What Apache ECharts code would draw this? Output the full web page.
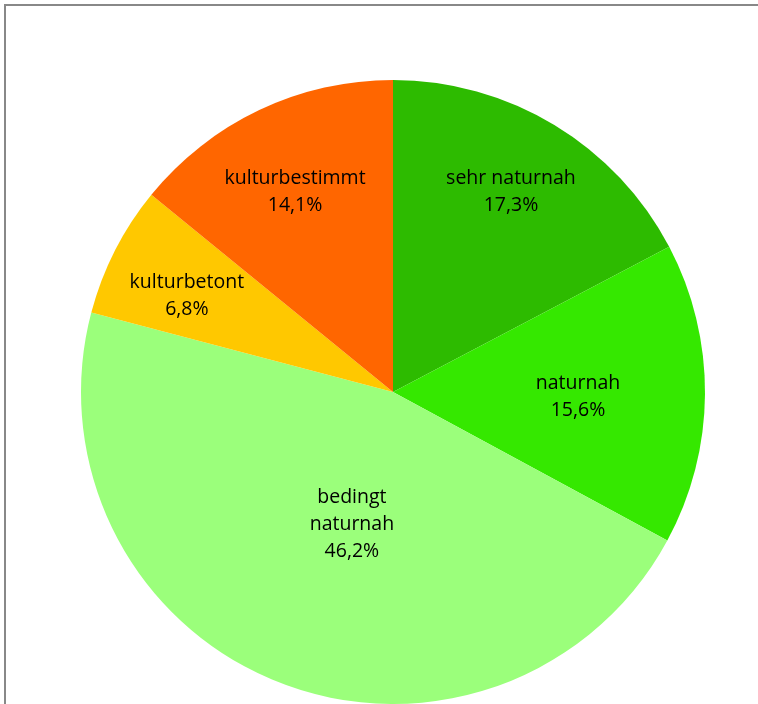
<!DOCTYPE html>
<html>
<head>
<meta charset="utf-8">
<script src="https://cdn.jsdelivr.net/npm/echarts@6/dist/echarts.min.js"></script>
<style>
html,body{margin:0;padding:0;background:#fff;}
#c{width:758px;height:704px;}
</style>
</head>
<body>
<div id="c"></div>
<script>
const categories = ["sehr naturnah", "naturnah", "bedingt\nnaturnah", "kulturbetont", "kulturbestimmt"];
const values = [17.3, 15.6, 46.2, 6.8, 14.1];
const valueLabels = ["17,3%", "15,6%", "46,2%", "6,8%", "14,1%"];
const colors = ["#2DBB00", "#35E800", "#9BFF7B", "#FFC800", "#FF6600"];
const labelRadiusFraction = [0.744, 0.593, 0.443, 0.729, 0.714];
const labelAngleShiftDeg = [-0.6, 1.1, -4.3, -2.0, -0.7];

const CX = 393, CY = 392, R = 312;
const total = values.reduce((a, b) => a + b, 0);
const midAngles = [];
let acc = 0;
values.forEach((v, i) => {
  midAngles.push((acc + v / 2) / total * 2 * Math.PI + labelAngleShiftDeg[i] * Math.PI / 180);
  acc += v;
});

const chart = echarts.init(document.getElementById('c'), null, {renderer: 'canvas'});
chart.setOption({
  animation: false,
  backgroundColor: '#ffffff',
  graphic: [{
    type: 'polyline',
    shape: {points: [[5, 720], [5, 5], [770, 5]]},
    style: {stroke: '#888888', lineWidth: 2, fill: null},
    silent: true
  }],
  series: [{
    type: 'pie',
    center: [CX, CY],
    radius: [0, R],
    startAngle: 90,
    clockwise: true,
    avoidLabelOverlap: false,
    itemStyle: {borderWidth: 0},
    label: {
      show: true,
      position: 'inside',
      color: '#000',
      fontFamily: 'Open Sans',
      fontSize: 19.5,
      lineHeight: 27,
      formatter: p => p.name + '\n' + valueLabels[p.dataIndex]
    },
    labelLine: {show: false},
    labelLayout: function (p) {
      const i = p.dataIndex;
      const a = midAngles[i];
      const r = R * labelRadiusFraction[i];
      return {x: CX + r * Math.sin(a), y: CY - r * Math.cos(a), align: 'center', verticalAlign: 'middle'};
    },
    emphasis: {disabled: true},
    data: categories.map((n, i) => ({name: n, value: values[i], itemStyle: {color: colors[i]}}))
  }]
});
</script>
</body>
</html>
